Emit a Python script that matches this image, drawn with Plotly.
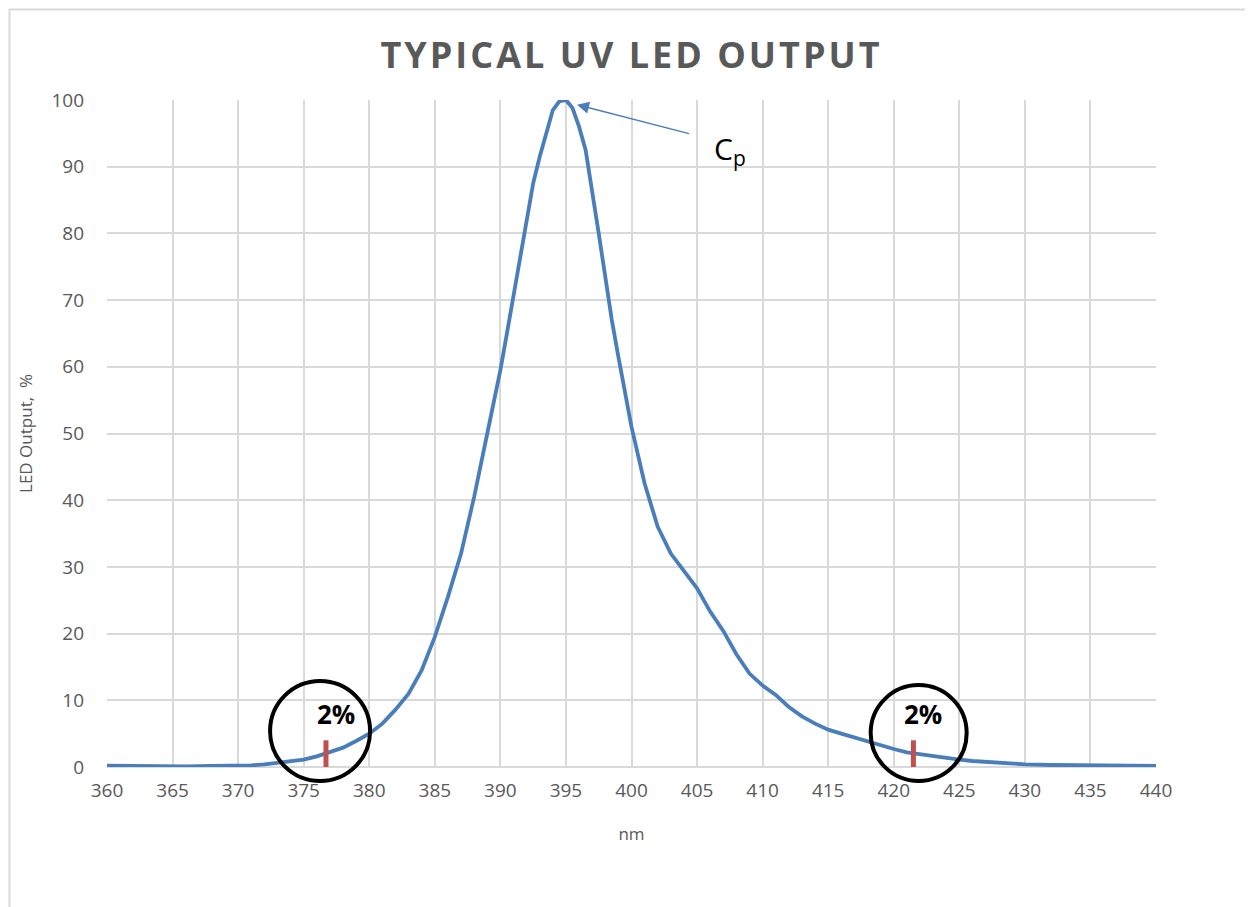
import plotly.graph_objects as go

# spectrum (nm, % of peak output)
wavelength = [360, 362, 364, 366, 368, 370, 371, 372, 373, 374, 375, 376, 377, 378, 379,
              380, 381, 382, 383, 384, 385, 386, 387, 388, 389, 390, 390.5, 391, 391.5,
              392, 392.5, 393, 393.5, 394, 394.5, 395, 395.5, 396, 396.5, 397, 397.5,
              398, 398.5, 399, 399.5, 400, 401, 402, 403, 404, 405, 406, 407, 408, 409,
              410, 411, 412, 413, 414, 415, 416, 417, 418, 419, 420, 421, 422, 423, 424,
              425, 426, 427, 428, 429, 430, 432, 434, 436, 438, 440]
output_pct = [0.2, 0.15, 0.1, 0.1, 0.15, 0.2, 0.25, 0.4, 0.6, 0.8, 1.1, 1.6, 2.2, 2.9, 3.9,
              5.0, 6.5, 8.6, 11.0, 14.5, 19.5, 25.5, 32.0, 40.5, 50.0, 59.5, 65.0, 70.5, 76.0,
              82.0, 87.5, 91.5, 95.2, 98.5, 99.8, 100.0, 98.8, 96.0, 92.5, 86.5, 80.0,
              73.5, 67.0, 61.5, 56.5, 51.0, 42.5, 36.0, 32.0, 29.3, 26.8, 23.3, 20.4, 16.9, 14.0,
              12.2, 10.8, 9.0, 7.6, 6.5, 5.6, 5.0, 4.4, 3.9, 3.3, 2.7, 2.2, 1.9, 1.6, 1.3,
              1.1, 0.9, 0.75, 0.6, 0.5, 0.4, 0.3, 0.25, 0.2, 0.2, 0.15]

# wavelengths where the output crosses 2%
two_pct_nm = [376.7, 421.5]
two_pct_label = "2%"

x_range = [360, 440]
y_range = [0, 100]
x_ticks = list(range(360, 441, 5))
y_ticks = list(range(0, 101, 10))

blue = '#4a7ebb'
grey_txt = '#595959'
grid = '#d9d9d9'

# page has an 8px body margin, so margins are trimmed by that
ML, MR, MT, MB = 99, 105, 92, 148
W = 1253 - ML - MR
H = 907 - MT - MB

fig = go.Figure()
fig.add_trace(go.Scatter(x=wavelength, y=output_pct, mode='lines',
                         line=dict(color=blue, width=3.8), showlegend=False))

# red markers at the 2% points
for nm in two_pct_nm:
    fig.add_shape(type='line', xref='x', yref='y', x0=nm, x1=nm, y0=0, y1=4,
                  line=dict(color='#c0504d', width=5))

def to_paper(nm):
    return (nm - x_range[0]) / (x_range[1] - x_range[0])

# circles round the 2% points (paper coords so they are not clipped)
for nm, dx, yc, r in [(two_pct_nm[0], -0.45, 5.4, 50), (two_pct_nm[1], 0.4, 5.1, 48)]:
    cx = to_paper(nm + dx)
    cy = yc / 100
    fig.add_shape(type='circle', xref='paper', yref='paper',
                  x0=cx - r / W, x1=cx + r / W, y0=cy - r / H, y1=cy + r / H,
                  line=dict(color='black', width=4))
    fig.add_annotation(x=nm + 0.75, y=8, xref='x', yref='y', text='<b>' + two_pct_label + '</b>',
                       showarrow=False, font=dict(size=26, color='black', family='Open Sans'))

# peak label
fig.add_annotation(x=395.85, y=99.3, ax=404.5, ay=94.9, axref='x', ayref='y',
                   xref='x', yref='y', text='', showarrow=True, arrowhead=2,
                   arrowsize=1.6, arrowwidth=1.5, arrowcolor=blue)
fig.add_annotation(x=407.5, y=92.5, xref='x', yref='y', text='C<sub>p</sub>',
                   showarrow=False, font=dict(size=30, color='black', family='Open Sans'))

# outer chart border (kept just inside the svg)
fig.add_shape(type='rect', xref='paper', yref='paper',
              x0=-(ML - 1.5) / W, x1=1.15, y0=-0.3, y1=1 + (MT - 1.5) / H,
              line=dict(color=grid, width=2), layer='below')

fig.update_layout(
    width=1253, height=907,
    margin=dict(l=ML, r=MR, t=MT, b=MB),
    paper_bgcolor='white', plot_bgcolor='white',
    font=dict(family='Open Sans', color=grey_txt),
    title=dict(text='<b><span style="letter-spacing:3px">TYPICAL UV LED OUTPUT</span></b>',
               x=(0.5 * W + ML) / 1253, xanchor='center', y=1 - 47 / 907, yanchor='middle',
               font=dict(size=36, color=grey_txt, family='Open Sans')),
    xaxis=dict(range=x_range, tickvals=x_ticks, showgrid=True, gridcolor=grid, gridwidth=1.5,
               zeroline=False, showline=False, ticks='', tickfont=dict(size=19),
               ticklabelstandoff=10,
               title=dict(text='nm', font=dict(size=17), standoff=26)),
    yaxis=dict(range=y_range, tickvals=y_ticks, showgrid=True, gridcolor=grid, gridwidth=1.5,
               zeroline=True, zerolinecolor=grid, zerolinewidth=1.5, showline=False, ticks='',
               tickfont=dict(size=19), ticklabelstandoff=22,
               title=dict(text='LED Output,  %', font=dict(size=17), standoff=14)),
)

fig.write_html("out.html")
